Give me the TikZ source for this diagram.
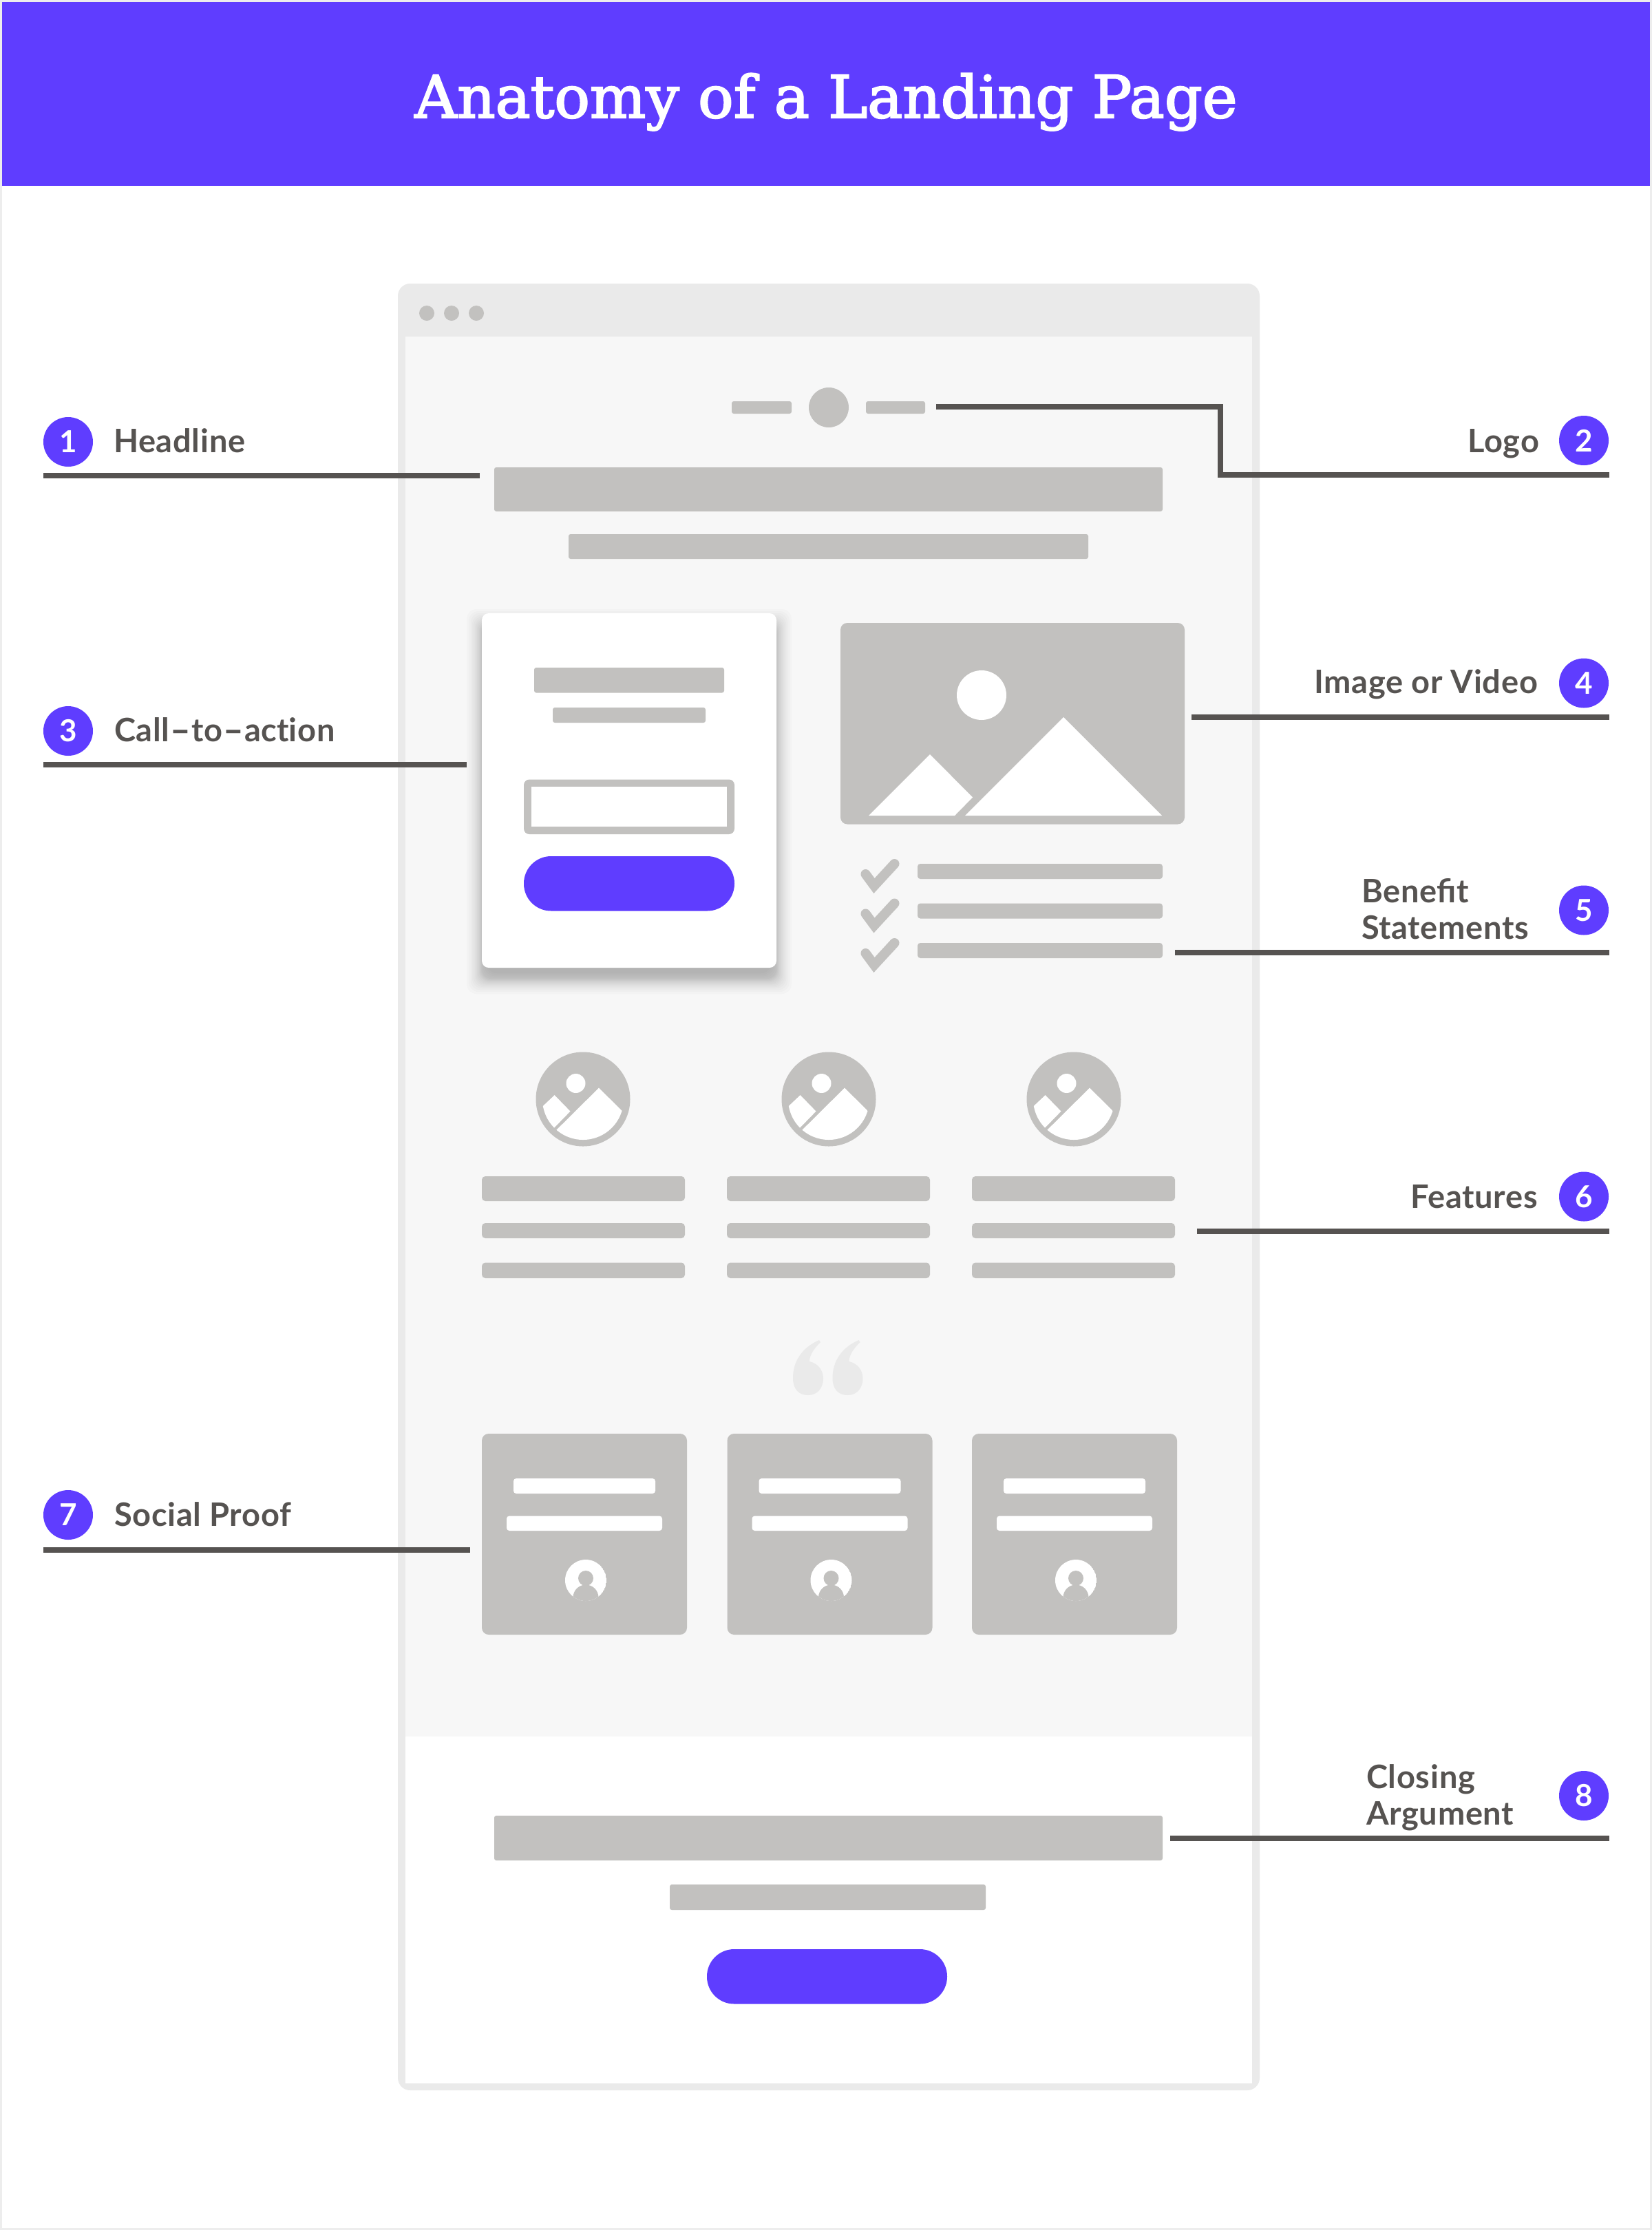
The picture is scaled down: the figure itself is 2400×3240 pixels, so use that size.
\documentclass[tikz,border=0pt]{standalone}
\usepackage{fontspec}
\newfontfamily\titlefont[FakeStretch=1.01,FakeBold=2.5]{DejaVu Serif}
\newfontfamily\labelfont[LetterSpace=1.5]{Lato}
\newfontfamily\digitfont{Lato}
\definecolor{brand}{HTML}{5F3DFF}
\definecolor{ink}{HTML}{565351}
\definecolor{bargray}{HTML}{C2C1BF}
\definecolor{framegray}{HTML}{EAEAEA}
\definecolor{pagegray}{HTML}{F7F7F7}
\definecolor{edgegray}{HTML}{EDEDED}
\tikzset{
  barfill/.style={rectangle,rounded corners=3pt,fill=bargray,inner sep=0pt,outer sep=0pt,draw=none},
  whitebar/.style={barfill,fill=white},
  photo/.style={barfill,rounded corners=10pt},
  pill/.style={barfill,fill=brand,rounded corners=39.5pt},
  dotnode/.style={circle,fill=bargray,inner sep=0pt,outer sep=0pt,minimum size=#1},
  leader/.style={draw=ink,line width=8.5pt,line cap=butt,line join=miter},
  tick/.style={draw=bargray,line width=14pt,line cap=round,line join=miter},
  badge/.style={circle,fill=brand,text=white,inner sep=0pt,minimum size=72pt,font=\digitfont\bfseries\fontsize{44}{44}\selectfont},
  lab/.style={text=ink,inner sep=0pt,outer sep=0pt,align=left,font=\labelfont\bfseries\fontsize{47}{51}\selectfont},
}
\newcommand{\pxbox}[6]{\node[#6,minimum width={((#4)-(#2))*1pt},minimum height={((#5)-(#3))*1pt}] (#1) at ({((#2)+(#4))/2},{((#3)+(#5))/2}) {};}
\newcommand{\widehyph}{\kern1pt\scalebox{1.7}[1]{-}\kern1pt}
\begin{document}
\begin{tikzpicture}[x=1pt,y=-1pt]
\useasboundingbox (0,0) rectangle (2400,3240);
\fill[white] (0,0) rectangle (2400,3240);
\draw[edgegray,line width=6pt] (0,0) rectangle (2400,3240);
% header
\fill[brand] (3,3) rectangle (2397,270);
\node[text=white,inner sep=0pt,anchor=base,font=\titlefont\fontsize{85}{85}\selectfont] (title) at (1200,171) {Anatomy of a Landing Page};
% browser frame
\fill[framegray,rounded corners=18pt] (578,412) rectangle (1830,3037);
\fill[white] (589,489) rectangle (1819,3027);
\fill[pagegray] (589,489) rectangle (1819,2523);
\node[dotnode=22pt] (dota) at (620,455) {};
\node[dotnode=22pt] (dotb) at (656,455) {};
\node[dotnode=22pt] (dotc) at (692,455) {};
% logo and headline
\pxbox{logol}{1063}{583}{1150}{601}{barfill}
\node[dotnode=58pt] (logoc) at (1204,592) {};
\pxbox{logor}{1258}{583}{1344}{601}{barfill}
\pxbox{head}{718}{679}{1689}{743}{barfill}
\pxbox{subhead}{826}{776}{1581}{812}{barfill}
% call to action card
\foreach \s in {22,19,16.5,14,12,10,8.5,7,5.5,4,3,2,1,0,-2,-4,-6,-8}{
  \fill[black,opacity=0.015,rounded corners=14pt] (700-\s,891+16-\s) rectangle (1128+\s,1406+16+\s);
}
\pxbox{card}{700}{891}{1128}{1406}{barfill,fill=white,rounded corners=10pt}
\pxbox{cardt}{776}{970}{1052}{1006.5}{barfill}
\pxbox{cards}{803}{1028}{1025}{1050}{barfill}
\pxbox{inputo}{761}{1132.5}{1067}{1212}{barfill,rounded corners=8pt}
\pxbox{inputi}{771.5}{1143}{1056}{1201}{barfill,fill=white,rounded corners=0pt}
\pxbox{cardbtn}{761}{1244}{1067}{1323.5}{pill}
% image
\pxbox{img}{1221}{905}{1721}{1197.5}{photo}
\node[circle,fill=white,inner sep=0pt,minimum size=72pt] (sun) at (1426,1010) {};
\fill[white] (1545,1042) -- (1688,1185) -- (1402,1185) -- cycle;
\fill[white] (1351,1096) -- (1413,1158.5) -- (1387,1185) -- (1262,1185) -- cycle;
% benefit list
\foreach \i/\dy in {1/0,2/57.5,3/115}{
  \draw[tick] (1257.5,1270+\dy) -- (1270,1287+\dy) -- (1299.5,1255+\dy);
  \pxbox{ben\i}{1333}{1255+\dy}{1689}{1277+\dy}{barfill,rounded corners=4pt}
}
% features
\foreach \i/\cx/\bx in {1/847/700,2/1204/1056,3/1560/1412}{
  \node[dotnode=137pt] (feat\i) at (\cx,1597) {};
  \begin{scope}[shift={(\cx,1597)}]
    \begin{scope}
      \clip (0,0) circle (59pt);
      \fill[white] (23,-16.4) -- (100,60) -- (100,80) -- (-60,80) -- (-60,66) -- cycle;
      \fill[white] (-41.4,-5.9) -- (-18.5,17.6) -- (-42,41.7) -- (-70,70) -- (-90,60) -- (-90,40) -- cycle;
    \end{scope}
    \fill[white] (-10.5,-23) circle (14pt);
  \end{scope}
  \pxbox{fa\i}{\bx}{1709}{\bx+295}{1745}{barfill,rounded corners=5pt}
  \pxbox{fb\i}{\bx}{1777}{\bx+295}{1799}{barfill,rounded corners=5pt}
  \pxbox{fc\i}{\bx}{1834.5}{\bx+295}{1857}{barfill,rounded corners=5pt}
}
% quote mark
\foreach \dx in {0,57.5}{
  \fill[framegray] (1190+\dx,1947) .. controls (1165+\dx,1958) and (1152+\dx,1978) .. (1152+\dx,2002)
    .. controls (1152+\dx,2018) and (1160+\dx,2027) .. (1174+\dx,2027)
    .. controls (1188+\dx,2027) and (1196+\dx,2016) .. (1196+\dx,2003)
    .. controls (1196+\dx,1990) and (1188+\dx,1981) .. (1176+\dx,1978)
    .. controls (1176+\dx,1968) and (1184+\dx,1958) .. (1192+\dx,1950) -- cycle;
}
% testimonials
\foreach \i/\dx in {1/0,2/356.5,3/712}{
  \pxbox{tc\i}{700+\dx}{2083}{998+\dx}{2375}{photo}
  \pxbox{ta\i}{746+\dx}{2148}{952+\dx}{2170}{whitebar,rounded corners=4pt}
  \pxbox{tb\i}{736+\dx}{2202.5}{962+\dx}{2224}{whitebar,rounded corners=4pt}
  \begin{scope}
    \clip (851+\dx,2296) circle (30pt);
    \fill[white] (851+\dx,2296) circle (30pt);
    \fill[bargray] (851+\dx,2321) circle (18.5pt);
    \fill[bargray] (851+\dx,2293) circle (11pt);
  \end{scope}
}
% closing
\pxbox{closea}{718}{2638}{1689}{2703}{barfill}
\pxbox{closeb}{973}{2738}{1432}{2775}{barfill}
\pxbox{closebtn}{1027}{2832}{1376}{2911.5}{pill}
% badges
\node[badge] (b1) at (99,642) {1};
\node[badge] (b2) at (2301,640) {2};
\node[badge] (b3) at (99,1062) {3};
\node[badge] (b4) at (2301,992.5) {4};
\node[badge] (b5) at (2301,1322.5) {5};
\node[badge] (b6) at (2301,1738.5) {6};
\node[badge] (b7) at (99,2201) {7};
\node[badge] (b8) at (2301,2609) {8};
% labels
\node[lab,anchor=base west] (t1) at (165,657) {Headline};
\node[lab,anchor=base east] (t2) at (2236,657) {Logo};
\node[lab,anchor=base west] (t3) at (166,1077) {Call\widehyph to\widehyph ac\kern0pt t\kern0pt ion};
\node[lab,anchor=base east] (t4) at (2234,1007.5) {Image or Video};
\node[lab,anchor=base west] (t5a) at (1978,1311) {Benefit};
\node[lab,anchor=base west] (t5b) at (1978,1364) {Statements};
\node[lab,anchor=base east] (t6) at (2234,1755) {Features};
\node[lab,anchor=base west] (t7) at (166,2217) {Social Proof};
\node[lab,anchor=base west] (t8a) at (1985,2598) {Closing};
\node[lab,anchor=base west] (t8b) at (1985,2651) {Argument};
% leaders
\coordinate (c1a) at (63,691);     \coordinate (c1b) at (697,691);
\coordinate (c2a) at (1360,591);   \coordinate (c2m) at (1773,591); \coordinate (c2n) at (1773,690); \coordinate (c2b) at (2338,690);
\coordinate (c3a) at (63,1111);    \coordinate (c3b) at (678,1111);
\coordinate (c4a) at (1731,1042);  \coordinate (c4b) at (2338,1042);
\coordinate (c5a) at (1707,1384);  \coordinate (c5b) at (2338,1384);
\coordinate (c6a) at (1739,1789);  \coordinate (c6b) at (2338,1789);
\coordinate (c7a) at (63,2252);    \coordinate (c7b) at (683,2252);
\coordinate (c8a) at (1700,2671);  \coordinate (c8b) at (2338,2671);
\draw[leader] (c1a) -- (c1b);
\draw[leader] (c2a) -- (c2m) -- (c2n) -- (c2b);
\draw[leader] (c3a) -- (c3b);
\draw[leader] (c4a) -- (c4b);
\draw[leader] (c5a) -- (c5b);
\draw[leader] (c6a) -- (c6b);
\draw[leader] (c7a) -- (c7b);
\draw[leader] (c8a) -- (c8b);
\end{tikzpicture}
\end{document}
